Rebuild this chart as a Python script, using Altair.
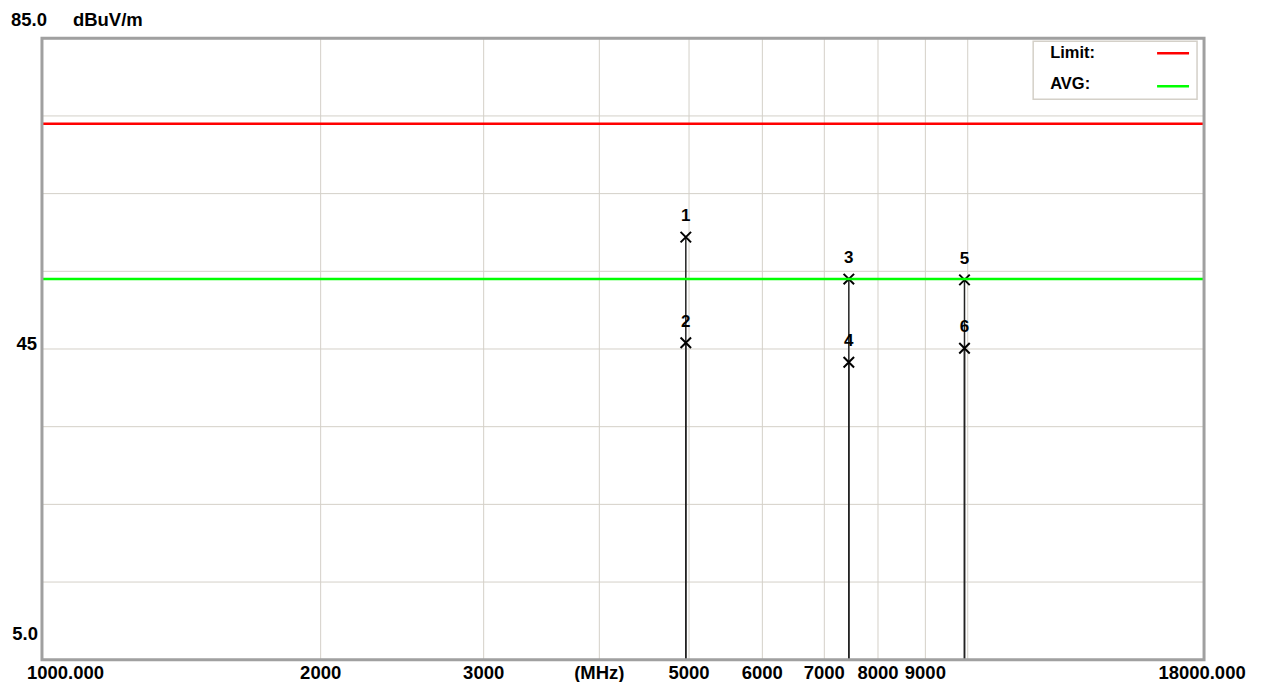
import altair as alt
import pandas as pd

# ---- data ----
freq_mhz = [4960, 4960, 7440, 7440, 9920, 9920]
level_dbuv = [59.4, 45.8, 54.0, 43.3, 53.9, 45.1]
marker_ids = ["1", "2", "3", "4", "5", "6"]

limit_names = ["Limit:", "AVG:"]
limit_levels = [74, 54]
limit_colors = ["#ff0000", "#00ff00"]

x_grid = [2000, 3000, 4000, 5000, 6000, 7000, 8000, 9000, 10000]
y_grid = [15, 25, 35, 45, 55, 65, 75]
x_tick_vals = [2000, 3000, 4000, 5000, 6000, 7000, 8000, 9000]
x_tick_labels = ["2000", "3000", "(MHz)", "5000", "6000", "7000", "8000", "9000"]

X_MIN, X_MAX = 1000, 18000
Y_MIN, Y_MAX = 5, 85

W, H = 1163, 622
FONT = "Liberation Sans"
GRID = "#d4d0c8"

xs = alt.Scale(type="log", domain=[X_MIN, X_MAX], nice=False)
ys = alt.Scale(domain=[Y_MIN, Y_MAX], nice=False, zero=False)

markers = pd.DataFrame({"f": freq_mhz, "lvl": level_dbuv, "id": marker_ids})
limits = pd.DataFrame({"name": limit_names, "lvl": limit_levels, "col": limit_colors})
xticks = pd.DataFrame({"f": x_tick_vals, "lab": x_tick_labels})
xg = pd.DataFrame({"f": x_grid})
yg = pd.DataFrame({"lvl": y_grid})
one = pd.DataFrame({"k": [0]})

xgrid_layer = alt.Chart(xg).mark_rule(color=GRID, strokeWidth=1).encode(
    x=alt.X("f:Q", scale=xs, axis=None),
)
ygrid_layer = alt.Chart(yg).mark_rule(color=GRID, strokeWidth=1).encode(
    y=alt.Y("lvl:Q", scale=ys, axis=None),
)

frame = alt.Chart(one).mark_rect(fill=None, stroke="#a0a0a0", strokeWidth=3).encode(
    x=alt.value(0), x2=alt.value(W), y=alt.value(0), y2=alt.value(H))

stems = alt.Chart(markers).mark_rule(color="#222222", strokeWidth=1.5).encode(
    x=alt.X("f:Q", scale=xs, axis=None),
    y=alt.Y("lvl:Q", scale=ys, axis=None),
    y2=alt.datum(Y_MIN),
)

crosses = alt.Chart(markers).mark_point(
    shape="M-1,-1L1,1M-1,1L1,-1", filled=False, color="#000000",
    strokeWidth=2, size=110, opacity=1,
).encode(
    x=alt.X("f:Q", scale=xs, axis=None),
    y=alt.Y("lvl:Q", scale=ys, axis=None),
)

numbers = alt.Chart(markers).mark_text(
    dy=-21, font=FONT, fontWeight="bold", fontSize=17, color="#000000",
).encode(
    x=alt.X("f:Q", scale=xs, axis=None),
    y=alt.Y("lvl:Q", scale=ys, axis=None),
    text="id:N",
)

limit_lines = alt.Chart(limits).mark_rule(strokeWidth=2.5).encode(
    y=alt.Y("lvl:Q", scale=ys, axis=None),
    color=alt.Color("col:N", scale=None, legend=None),
)

lab_style = dict(font=FONT, fontWeight="bold", fontSize=18.5, baseline="middle", color="#000000")

xlabels = alt.Chart(xticks).mark_text(**lab_style).encode(
    x=alt.X("f:Q", scale=xs, axis=None),
    y=alt.value(H + 13),
    text="lab:N",
)

x_first = alt.Chart(one).mark_text(align="left", dx=-15, **lab_style).encode(
    x=alt.datum(X_MIN, scale=xs), y=alt.value(H + 13), text=alt.value("1000.000"))
x_last = alt.Chart(one).mark_text(align="center", dx=-2, **lab_style).encode(
    x=alt.datum(X_MAX, scale=xs), y=alt.value(H + 13), text=alt.value("18000.000"))

y_top = alt.Chart(one).mark_text(align="right", **lab_style).encode(
    x=alt.value(5), y=alt.value(-18), text=alt.value("85.0"))
y_unit = alt.Chart(one).mark_text(align="left", **lab_style).encode(
    x=alt.value(31), y=alt.value(-18), text=alt.value("dBuV/m"))
y_mid = alt.Chart(one).mark_text(align="right", dy=-5, **lab_style).encode(
    x=alt.value(-5), y=alt.datum(45, scale=ys), text=alt.value("45"))
y_bot = alt.Chart(one).mark_text(align="right", dy=-26, **lab_style).encode(
    x=alt.value(-4), y=alt.datum(Y_MIN, scale=ys), text=alt.value("5.0"))

legend_box = alt.Chart(one).mark_rect(fill="#ffffff", stroke=GRID, strokeWidth=1.5).encode(
    x=alt.value(992), x2=alt.value(1156), y=alt.value(3), y2=alt.value(61))

leg_text_style = dict(font=FONT, fontWeight="bold", fontSize=16.5, baseline="middle",
                      align="left", color="#000000")
leg_t1 = alt.Chart(one).mark_text(**leg_text_style).encode(
    x=alt.value(1009), y=alt.value(15), text=alt.value(limit_names[0]))
leg_t2 = alt.Chart(one).mark_text(**leg_text_style).encode(
    x=alt.value(1009), y=alt.value(46), text=alt.value(limit_names[1]))
leg_l1 = alt.Chart(one).mark_rule(color=limit_colors[0], strokeWidth=2.5).encode(
    x=alt.value(1116), x2=alt.value(1148), y=alt.value(15))
leg_l2 = alt.Chart(one).mark_rule(color=limit_colors[1], strokeWidth=2.5).encode(
    x=alt.value(1116), x2=alt.value(1148), y=alt.value(48))

chart = alt.layer(
    xgrid_layer, ygrid_layer, stems, crosses, numbers, limit_lines, frame,
    legend_box, leg_t1, leg_t2, leg_l1, leg_l2,
    xlabels, x_first, x_last, y_top, y_unit, y_mid, y_bot,
).properties(
    width=W, height=H,
    autosize=alt.AutoSizeParams(type="none"),
    padding={"left": 34, "top": 30, "right": 50, "bottom": 22},
).configure_view(
    stroke=None,
).configure(background="#ffffff")

chart.save("out.html", embed_options={"renderer": "svg", "actions": False})
